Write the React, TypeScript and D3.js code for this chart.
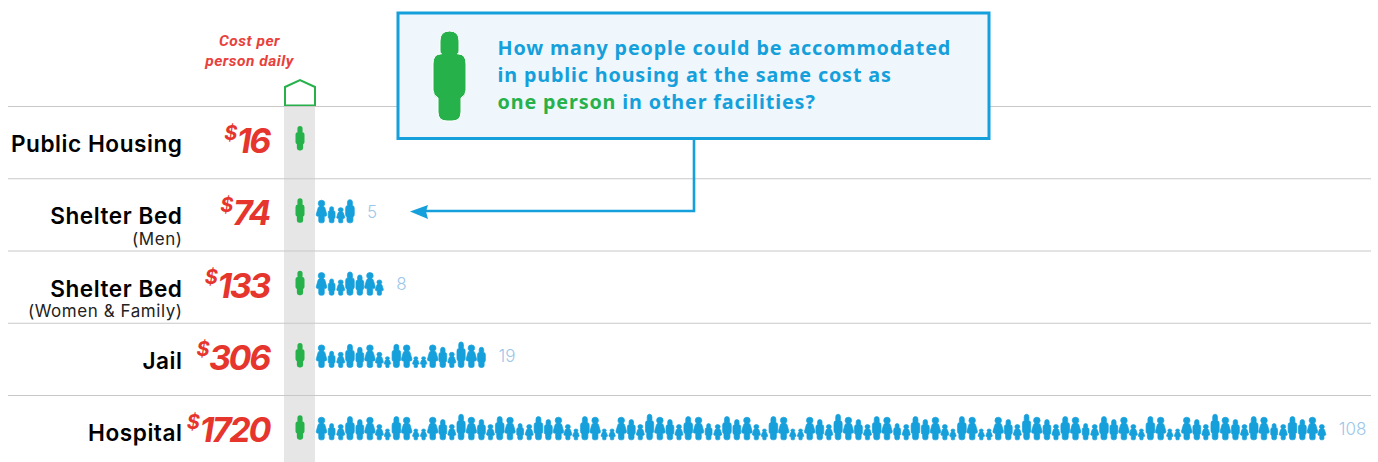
import React from "react";
import * as d3 from "d3";

// Facility rows
const facilities = ["Public Housing", "Shelter Bed", "Shelter Bed", "Jail", "Hospital"];
const subLabels = ["", "(Men)", "(Women & Family)", "", ""];
const dailyCost = [16, 74, 133, 306, 1720];
const peopleHoused = [1, 5, 8, 19, 108];

// Repeating family of figures used for the blue pictogram rows
const figureCycle = ["W", "s", "g", "M", "m", "W", "g", "t", "M", "W", "t", "t", "W", "m", "g", "T", "W", "m", "g", "M"];

const WIDTH = 1378;
const HEIGHT = 462;
const BLUE = "#159fdb";
const GREEN = "#27b14b";
const RED = "#e5352c";
const LABEL_FONT = "Inter, 'Noto Sans', sans-serif";
const PRICE_FONT = "Inter, Roboto, sans-serif";
const HEADING_FONT = "Roboto, sans-serif";
const CALLOUT_FONT = "'Noto Sans', 'Open Sans', sans-serif";

const MAN_PATH =
  "M-9.5,-80 Q-9.5,-90 0,-90 Q9.5,-90 9.5,-80 L9.5,-70 Q9.5,-68 8,-67 L9,-67 Q16.5,-67 16.5,-57 L16.5,-31 Q16.5,-26 11.5,-23 L11.5,-9 Q11.5,0 2.5,0 L-2.5,0 Q-11.5,0 -11.5,-9 L-11.5,-23 Q-16.5,-26 -16.5,-31 L-16.5,-57 Q-16.5,-67 -9,-67 L-8,-67 Q-9.5,-68 -9.5,-70 Z";
const WOMAN_PATH =
  "M-13,-77 A13,13 0 1 1 13,-77 A13,13 0 0 1 7,-66 Q12,-65 14,-58 L21,-33 Q22,-27 15,-26 L11,-26 L11,-7 Q11,0 4,0 L-4,0 Q-11,0 -11,-7 L-11,-26 L-15,-26 Q-22,-27 -21,-33 L-14,-58 Q-12,-65 -7,-66 A13,13 0 0 1 -13,-77 Z";

// Drawn size in pixels and layout half-slot of each figure type
const figureTypes: Record<string, { path: string; sx: number; sy: number; slot: number }> = {
  W: { path: WOMAN_PATH, sx: 10.8 / 43, sy: 22.6 / 90, slot: 5.2 },
  M: { path: MAN_PATH, sx: 8.6 / 33, sy: 23.2 / 90, slot: 5 },
  T: { path: MAN_PATH, sx: 8.2 / 33, sy: 25.6 / 90, slot: 5 },
  m: { path: MAN_PATH, sx: 7.8 / 33, sy: 20.2 / 90, slot: 4.8 },
  s: { path: MAN_PATH, sx: 6.8 / 33, sy: 16.2 / 90, slot: 4.85 },
  g: { path: WOMAN_PATH, sx: 8.2 / 43, sy: 15.2 / 90, slot: 4.15 },
  t: { path: WOMAN_PATH, sx: 6.6 / 43, sy: 10.8 / 90, slot: 3.85 },
};
const SLOT_PAD = 0.085;

// Cumulative slot position for every figure of a row of n figures
function slotPositions(n: number) {
  const positions: { type: string; at: number }[] = [];
  let at = 0;
  for (let i = 0; i < n; i++) {
    const type = figureCycle[i % figureCycle.length];
    if (i > 0) {
      const prev = figureCycle[(i - 1) % figureCycle.length];
      at += figureTypes[prev].slot + figureTypes[type].slot + SLOT_PAD;
    }
    positions.push({ type, at });
  }
  return positions;
}

const rowBase = d3.scaleLinear().domain([0, 4]).range([150.5, 439.8]);
const rowRule = d3.scaleLinear().domain([0, 4]).range([106.5, 395.5]);
const slotX = d3.scaleLinear().domain([0, 1]).range([321.5, 322.5]);

const housePath = d3.line()([
  [285, 105.5],
  [285, 87],
  [300, 80],
  [315, 87],
  [315, 105.5],
]) + "Z";

const arrowLine = d3.line()([
  [694, 139],
  [694, 211],
  [425, 211],
]) as string;

export default function App() {
  return (
    <svg
      width={WIDTH}
      height={HEIGHT}
      viewBox={`0 0 ${WIDTH} ${HEIGHT}`}
      style={{ position: "absolute", left: 0, top: 0, display: "block", background: "#fff" }}
    >
      {/* reference column */}
      <rect x={284} y={106} width={31} height={HEIGHT - 106} fill="#e6e6e6" />
      <path d={housePath} fill="#fff" stroke={GREEN} strokeWidth={2} />

      {/* row rules */}
      {facilities.map((_, i) => (
        <line key={i} x1={8} x2={1371} y1={rowRule(i)} y2={rowRule(i)} stroke="#c8c8c8" strokeWidth={1.2} />
      ))}

      {/* cost heading */}
      <g fontFamily={HEADING_FONT} fontStyle="italic" fontWeight={700} fontSize={15.5} fill="#e8413c" textAnchor="middle" letterSpacing={0.5}>
        <text x={249.5} y={46}>Cost per</text>
        <text x={249.5} y={66}>person daily</text>
      </g>

      {/* rows */}
      {facilities.map((name, i) => {
        const base = rowBase(i);
        const blue = slotPositions(peopleHoused[i] - 1);
        const last = blue.length ? blue[blue.length - 1] : null;
        return (
          <g key={i}>
            <text x={182.5} y={base + 1.5} textAnchor="end" fontFamily={LABEL_FONT} fontWeight={600} fontSize={22.6} fill="#000" letterSpacing={0.55}>
              {name}
            </text>
            {subLabels[i] && (
              <text x={182.5} y={base + 22} textAnchor="end" fontFamily={LABEL_FONT} fontWeight={400} fontSize={17} fill="#222" letterSpacing={0.55}>
                {subLabels[i]}
              </text>
            )}
            <text x={269} y={base + 2.5} textAnchor="end" fontFamily={PRICE_FONT} fontStyle="italic" fontWeight={700} fill={RED} letterSpacing={-2.3}>
              <tspan fontSize={20} dy={-13.5} letterSpacing={-0.5}>$</tspan>
              <tspan fontSize={34} dy={13.5}>{dailyCost[i]}</tspan>
            </text>
            <path d={MAN_PATH} transform={`translate(300,${base}) scale(${9 / 33},${24.5 / 90})`} fill={GREEN} />
            {blue.map((f, j) => {
              const t = figureTypes[f.type];
              return (
                <path
                  key={j}
                  d={t.path}
                  transform={`translate(${slotX(f.at)},${base}) scale(${t.sx},${t.sy})`}
                  fill={BLUE}
                  stroke={BLUE}
                  strokeWidth={0.7}
                  vectorEffect="non-scaling-stroke"
                />
              );
            })}
            {last && (
              <text x={slotX(last.at) + 17} y={base - 5} fontFamily={LABEL_FONT} fontWeight={300} fontSize={17} fill="#9cc6ea">
                {peopleHoused[i]}
              </text>
            )}
          </g>
        );
      })}

      {/* connector from callout to the first comparison row */}
      <path d={arrowLine} fill="none" stroke={BLUE} strokeWidth={2.6} />
      <path d="M410,211.5 L428,205 L426,211.5 L428,219 Z" fill={BLUE} />

      {/* callout */}
      <rect x={398} y={13} width={591} height={125.5} fill="#eff7fd" stroke={BLUE} strokeWidth={3} />
      <path d={MAN_PATH} transform="translate(449.5,121)" fill={GREEN} stroke="#fff" strokeWidth={1} />
      <g fontFamily={CALLOUT_FONT} fontWeight={700} fontSize={19.75} fill={BLUE} letterSpacing={0.85}>
        <text x={497.5} y={55}>How many people could be accommodated</text>
        <text x={497.5} y={82}>in public housing at the same cost as</text>
        <text x={497.5} y={109}>
          <tspan fill={GREEN}>one person</tspan> in other facilities?
        </text>
      </g>
    </svg>
  );
}
